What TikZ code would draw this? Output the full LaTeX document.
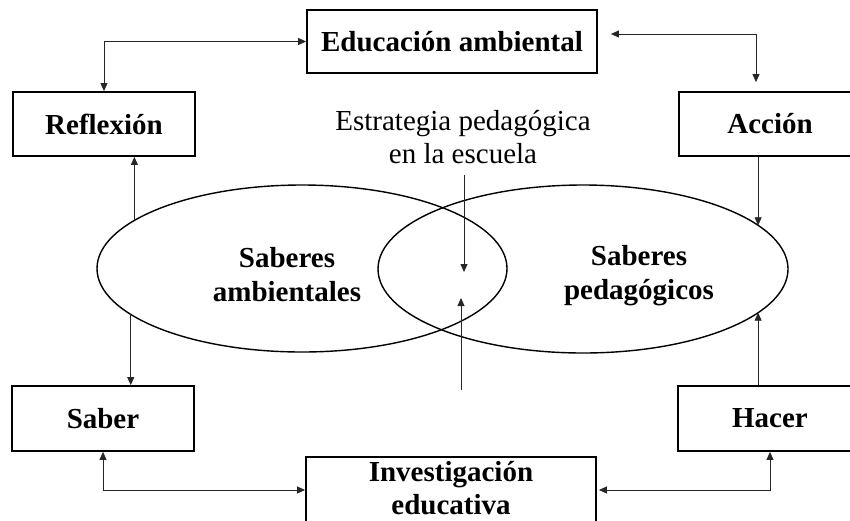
\documentclass[tikz,border=0pt]{standalone}
\usepackage{fontspec}
\setmainfont{Liberation Serif}
\usetikzlibrary{arrows.meta,shapes.geometric}
\begin{document}
\begin{tikzpicture}[x=1pt,y=-1pt,
  box/.style={draw, line width=1.8pt, rectangle, inner sep=0pt, align=center,
    font=\bfseries\fontsize{29}{33}\selectfont},
  ell/.style={draw, ellipse, line width=1.4pt, inner sep=0pt, outer sep=0pt,
    minimum width=410pt, minimum height=167pt},
  lbl/.style={inner sep=0pt, align=center, font=\fontsize{29}{33}\selectfont},
  blbl/.style={inner sep=0pt, align=center, font=\bfseries\fontsize{29}{34}\selectfont},
  arr/.style={line width=0.8pt, draw=black!85, -{Triangle[length=8pt,width=7pt]}},
  both/.style={line width=0.8pt, draw=black!85, {Triangle[length=8pt,width=7pt]}-{Triangle[length=8pt,width=7pt]}}
]
\clip (0,0) rectangle (850,520);
\useasboundingbox (0,0) rectangle (850,520);

% boxes
\node[box, minimum width=290pt, minimum height=63pt] (edu) at (452,41.5) {Educación ambiental};
\node[box, minimum width=182pt, minimum height=64pt] (refl) at (104,124) {Reflexión};
\node[box, minimum width=182pt, minimum height=64pt] (acc) at (770,124) {Acción};
\node[box, minimum width=182pt, minimum height=65pt] (saber) at (103,418.5) {Saber};
\node[box, minimum width=184pt, minimum height=65pt] (hacer) at (770,418.5) {Hacer};
\node[box, minimum width=290pt, minimum height=66pt, text depth=4pt] (inv) at (451,490) {Investigación\\educativa};

% ellipses
\node[ell] (ellL) at (302,268.5) {};
\node[ell, minimum width=410pt, minimum height=168pt] (ellR) at (583,269) {};

% labels
\node[blbl] (sa) at (287,275) {Saberes\\ambientales};
\node[blbl] (sp) at (639,276) {Saberes\\pedagógicos};
\node[lbl] (est) at (463,137) {Estrategia pedagógica\\en la escuela};

% connectors
\draw[both] (refl.north) |- (edu.west);
\draw[both] ([xshift=13pt,yshift=7.5pt]edu.east) -| ([xshift=-14pt,yshift=9pt]acc.north);
\draw[arr] (ellL.164.3) -- (ellL.164.3 |- refl.south);
\draw[arr] (ellR.14.3 |- acc.south) -- (ellR.14.3);
\draw[arr] (ellL.195.7) -- (ellL.195.7 |- saber.north);
\draw[arr] (ellR.-14.3 |- hacer.north) -- (ellR.-14.3);
\draw[both] (saber.south) |- (inv.west);
\draw[both] ([xshift=2pt]inv.east) -| (hacer.south);

\coordinate (c1) at (464,175);
\coordinate (c2) at (464,272);
\coordinate (c3) at (461,390);
\coordinate (c4) at (461,298);
\draw[arr] (c1) -- (c2);
\draw[arr] (c3) -- (c4);
\end{tikzpicture}
\end{document}
